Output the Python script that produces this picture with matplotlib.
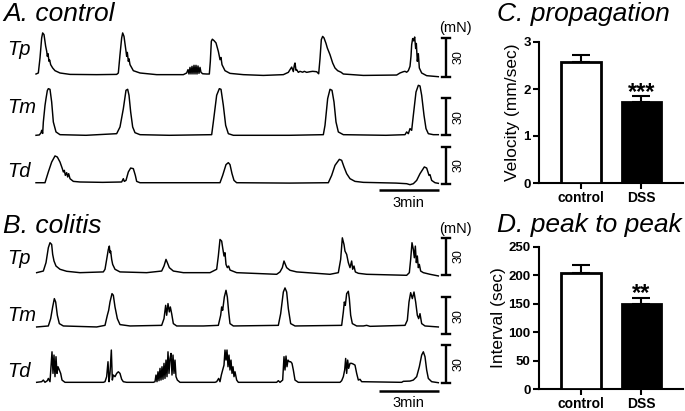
import matplotlib
matplotlib.use('Agg')
import matplotlib.pyplot as plt

plt.rcParams['font.family'] = ['Liberation Sans', 'DejaVu Sans']

# ---- traces: (time in s, force in mN) ----
a_tp = [(0, 2.1), (7, 2.9), (12, 14.6), (17, 30.3), (20, 34.2), (24, 32.9), (29, 23.8), (32, 20), (34, 15.9),
        (36, 18), (39, 12.0), (41, 13), (44, 9.4), (50, 6.8), (57, 4.7), (72, 2.9), (102, 1.8), (182, 1.6),
        (242, 1.8), (247, 2.9), (252, 17.2), (257, 30.3), (260, 34.2), (264, 31.5), (268, 23.8), (270, 20),
        (272, 15.9), (274, 19), (277, 12), (279, 14), (282, 9.4), (292, 4.7), (312, 2.9), (362, 1.6), (442, 1.6),
        (452, 2.9), (456, 5.5), (459, 2.1), (462, 7.3), (465, 2.1), (468, 8.1), (471, 2.1), (474, 8.9), (477, 2.1),
        (480, 8.9), (483, 2.1), (486, 8.4), (489, 2.6), (492, 7.3), (495, 3.4), (500, 2.3), (512, 2.1),
        (520, 2.1), (523, 12), (526, 27.7), (529, 29.3), (534, 28.2), (540, 26.4), (547, 19.8), (550, 16),
        (552, 13.3), (555, 15), (558, 9.4), (567, 4.7), (582, 2.6), (622, 1.6), (682, 1.0), (742, 1.6),
        (757, 3.4), (762, 5.5), (767, 7.5), (772, 4), (775, 9), (777, 10.7), (780, 5), (782, 5.5), (787, 3.4),
        (792, 4.2), (800, 3.5), (805, 4.2), (812, 3.4), (822, 3.9), (830, 4.2), (842, 3.9), (848, 2.3),
        (852, 14), (856, 29), (860, 31.5), (864, 30.3), (870, 26), (874, 22.4), (882, 17.2), (890, 10.7),
        (897, 6.8), (905, 4.7), (915, 3.5), (922, 2.1), (982, 1.0), (1082, 1.3), (1092, 2.9), (1102, 3.9),
        (1107, 4.2), (1112, 3.5), (1117, 4.7), (1122, 8.1), (1125, 16), (1127, 25), (1130, 29.8), (1133, 28),
        (1136, 31), (1139, 22), (1141, 26), (1144, 12), (1147, 18), (1150, 6.8), (1157, 2.9), (1172, 0.8),
        (1207, 0)]

a_tm = [(0, 0), (10, 0.3), (15, 2), (17, 4.0), (20, 1.5), (22, 10.7), (27, 24), (30, 29.5), (34, 36), (37, 37.5),
        (42, 37.0), (47, 26.8), (52, 10.7), (60, 2.7), (72, 0.5), (150, 0), (242, 1.3), (252, 6.7), (262, 21.4),
        (270, 36.2), (275, 37), (279, 32.2), (284, 18.8), (290, 6.7), (297, 2.1), (312, 0.5), (400, 0),
        (527, 0.5), (532, 10.7), (542, 32.2), (550, 37.5), (555, 37), (562, 24.1), (569, 8), (577, 1.3),
        (592, 0), (760, 0), (862, 0.5), (867, 8), (875, 29.5), (882, 37), (888, 36.2), (894, 26.8), (900, 10.7),
        (907, 2.7), (922, 0.5), (1050, 0), (1107, 0.5), (1112, 2.7), (1117, 1.3), (1122, 5.4), (1127, 4),
        (1132, 16.1), (1140, 34.8), (1147, 40.2), (1152, 39.7), (1157, 32.2), (1164, 16.1), (1170, 5.4),
        (1177, 1.3), (1192, 0.5), (1207, 0.5)]

a_td = [(0, 0.8), (20, 0.8), (27, 0.8), (37, 9.6), (47, 17.7), (57, 22.7), (64, 21.8), (72, 17.7), (79, 12.3),
        (82, 9.6), (85, 10.9), (88, 6.8), (92, 9.0), (95, 5.5), (98, 8.2), (102, 4.1), (112, 1.9), (132, 1.4),
        (200, 1.1), (257, 1.4), (262, 4.1), (265, 1.9), (270, 2.7), (277, 9.6), (284, 12.8), (292, 12.3),
        (298, 6.8), (302, 1.9), (312, 0.8), (420, 0.8), (552, 0.8), (560, 6.8), (570, 15.6), (577, 17.2),
        (582, 15.6), (588, 8.2), (594, 2.7), (602, 0.8), (760, 0.5), (877, 0.8), (887, 6.8), (897, 15),
        (910, 19.9), (917, 19.1), (924, 13.7), (932, 8.2), (942, 4.1), (957, 1.9), (982, 1.1), (1080, 0.5),
        (1112, 0), (1122, -0.8), (1132, 0), (1142, 2.7), (1152, 8.2), (1165, 13.7), (1172, 12.8), (1179, 6.8),
        (1182, 7.4), (1187, 2.7), (1197, 0.8), (1207, 0.3)]

b_tp = [(2, 2.1), (22, 3.4), (30, 10.1), (37, 22), (42, 26), (47, 24.6), (50, 16.7), (54, 11.4), (60, 7.4),
        (72, 4.8), (92, 3.2), (132, 2.1), (202, 2.7), (207, 4.8), (212, 12.7), (217, 20.7), (220, 23.3),
        (222, 18), (224, 19.3), (227, 12.7), (230, 8.7), (237, 4.8), (252, 2.7), (332, 2.1), (377, 3.4),
        (384, 7.4), (390, 12.7), (394, 10.1), (400, 6.1), (412, 3.4), (442, 2.1), (522, 2.1), (542, 4.8),
        (547, 15.4), (552, 28.6), (557, 27.3), (560, 22), (564, 15.4), (567, 18), (570, 8.7), (574, 6.1),
        (578, 7.4), (582, 4.2), (602, 2.1), (722, 0.8), (732, 2.7), (739, 6.1), (744, 11.4), (748, 8.7),
        (752, 6.1), (762, 4), (782, 2.7), (882, 0.8), (907, 2.1), (914, 12.7), (919, 29.9), (924, 24.6),
        (927, 19.3), (932, 16.7), (937, 10.1), (942, 6.1), (947, 11.4), (950, 4.8), (954, 7.4), (958, 2.7),
        (967, 1.6), (992, 0.8), (1112, 0), (1120, 2.1), (1124, 12.7), (1128, 26), (1132, 20.7), (1135, 14),
        (1138, 23.3), (1141, 10.1), (1144, 15.4), (1147, 6.1), (1150, 8.7), (1154, 3.4), (1162, 2.1),
        (1182, 0.8), (1207, -0.5)]

b_tm = [(2, 5.9), (37, 6.7), (44, 12.6), (50, 22), (55, 28.7), (59, 26), (64, 15.3), (70, 8.6), (82, 6.7),
        (182, 5.9), (207, 7.2), (214, 15.3), (218, 19.3), (222, 26), (228, 32.7), (232, 31.4), (237, 22),
        (244, 12.6), (252, 7.8), (282, 6.7), (377, 7.2), (384, 12.6), (389, 23.3), (392, 15.3), (396, 24.7),
        (400, 18), (403, 22), (407, 16.6), (412, 8.6), (422, 6.7), (502, 6.7), (547, 7.2), (554, 15.3),
        (557, 22), (560, 19.3), (565, 30), (570, 35.4), (574, 30), (578, 18), (582, 8.6), (592, 6.7),
        (727, 7.2), (734, 16.6), (742, 34), (747, 37.3), (752, 34), (757, 20.6), (764, 8.6), (777, 6.7),
        (917, 7.2), (922, 18), (925, 26), (928, 23.3), (932, 32.7), (937, 34.6), (940, 28.7), (944, 15.3),
        (949, 8.6), (962, 6.7), (982, 6.7), (992, 7.2), (1002, 6.4), (1107, 7.2), (1114, 11.3), (1119, 26),
        (1124, 33.5), (1129, 28.7), (1134, 34), (1139, 26), (1144, 15.3), (1148, 12.6), (1152, 16.6),
        (1157, 8.6), (1167, 6.7), (1207, 5.9)]

b_td = [(2, 0.3), (17, 0.8), (22, 2.1), (27, 0.3), (34, 1.6), (37, 3.4), (42, 0.8), (45, 12.7), (48, 24.6),
        (51, 7.4), (54, 22), (57, 4.8), (60, 20.7), (63, 7.4), (66, 12.7), (70, 10.1), (74, 7.4), (78, 2.1),
        (87, 0.3), (202, 0.3), (207, 0.8), (212, 4.8), (216, 16.7), (219, 0.8), (222, 7.4), (226, 26),
        (229, 2.1), (232, 6.1), (237, 4.8), (242, 7.4), (247, 8.7), (252, 7.4), (257, 2.7), (262, 0.8),
        (272, 0.3), (352, 0.3), (357, 0.8), (360, 6.1), (363, 0.8), (366, 8.7), (369, 1.6), (372, 11.4),
        (375, 2.1), (378, 12.7), (381, 2.7), (384, 15.4), (387, 3.4), (390, 18), (393, 4.8), (396, 24.6),
        (399, 7.4), (402, 19.3), (405, 23.3), (408, 6.1), (411, 22), (414, 7.4), (417, 18), (420, 4.8),
        (424, 2.1), (432, 0.3), (537, 0.3), (542, 0.8), (548, 3.4), (552, 0.8), (556, 6.1), (560, 10.1),
        (564, 14), (567, 26), (570, 18), (573, 26), (576, 12.7), (579, 22), (582, 10.1), (585, 18), (588, 7.4),
        (591, 12.7), (594, 4.8), (597, 8.7), (602, 2.1), (607, 0.3), (722, 0.3), (727, 1.6), (732, 0.3),
        (740, 2.1), (744, 20.7), (747, 10.1), (750, 21.2), (753, 12.7), (756, 18), (760, 16.7), (764, 16.7),
        (768, 15.4), (772, 10.1), (777, 2.1), (787, 0.3), (912, 0.3), (917, 1.6), (922, 4.8), (926, 10.1),
        (929, 19.3), (932, 7.4), (935, 18), (938, 11.4), (942, 15.4), (947, 15.4), (952, 14.8), (957, 14),
        (962, 7.4), (967, 2.1), (972, 2.7), (977, 0.8), (1097, 0.3), (1102, 1.1), (1122, 1.3), (1132, 2.1),
        (1142, 4.8), (1150, 12.7), (1157, 22), (1162, 24.6), (1167, 20.7), (1172, 10.1), (1177, 3.4),
        (1187, 0.8), (1207, 0)]

trace_names = ['Tp', 'Tm', 'Td']

# ---- bar charts ----
groups = ['control', 'DSS']
velocity = [2.57, 1.73]
velocity_sem = [0.15, 0.12]
interval = [204, 150]
interval_sem = [15, 10]

W, H = 685, 411
fig = plt.figure(figsize=(W / 100, H / 100), dpi=100)


def px_axes(left, top, right, bottom):
    return fig.add_axes([left / W, 1 - bottom / H, (right - left) / W, (bottom - top) / H])


def fig_text(x, y, s, **kw):
    fig.text(x / W, 1 - y / H, s, **kw)


# rows: (trace, y px of 0 mN, y px of 30 mN)
rows = [
    (a_tp, 76.7, 38.3), (a_tm, 135.3, 98.0), (a_td, 183.7, 147.0),
    (b_tp, 275.3, 237.7), (b_tm, 334.3, 297.0), (b_td, 382.7, 345.0),
]
label_base = [55, 113, 177, 264, 321, 377]

for i, (trace, y0, y30) in enumerate(rows):
    k = 30.0 / (y0 - y30)          # mN per pixel
    top, bot = y0 - 62, y0 + 14
    ax = px_axes(30, top, 480, bot)
    ax.set_xlim(-18, 1332)
    ax.set_ylim(-14 * k, 62 * k)
    ax.axis('off')
    t = [p[0] for p in trace]
    f = [p[1] for p in trace]
    ax.plot(t, f, color='black', lw=1.05, clip_on=False)
    # 30 mN scale bar
    ax.plot([1230, 1230], [0, 30], color='black', lw=1.7, solid_capstyle='butt')
    ax.plot([1218, 1242], [0, 0], color='black', lw=1.7)
    ax.plot([1218, 1242], [30, 30], color='black', lw=1.7)
    ax.text(1268, 15, '30', rotation=90, ha='center', va='center', fontsize=9)
    fig_text(7, label_base[i], trace_names[i % 3], fontsize=14.5, style='italic', va='baseline')
    if i % 3 == 2:
        # 3 min time bar
        yb = -(6.3 if i == 2 else 8.3) * k
        ax.plot([1029, 1209], [yb, yb], color='black', lw=1.8, solid_capstyle='butt')

fig_text(408.5, 206.5, '3min', fontsize=10.5, ha='center', va='baseline')
fig_text(408.5, 406.5, '3min', fontsize=10.5, ha='center', va='baseline')
fig_text(455, 28, '(mN)', fontsize=10.5, ha='center', va='center')
fig_text(455, 229, '(mN)', fontsize=10.5, ha='center', va='center')

fig_text(3, 21, 'A. control', fontsize=19, style='italic', va='baseline')
fig_text(3, 233, 'B. colitis', fontsize=19, style='italic', va='baseline')
fig_text(497, 21, 'C. propagation', fontsize=19, style='italic', va='baseline')
fig_text(497, 232, 'D. peak to peak', fontsize=19, style='italic', va='baseline')


def bar_panel(ax, vals, sems, ylim, yticks, ylabel, stars, star_y):
    x = [0, 1]
    ax.bar(x, vals, width=0.66, color=['white', 'black'], edgecolor='black', linewidth=2, zorder=3)
    ax.errorbar(x, vals, yerr=[[0, 0], sems], fmt='none', ecolor='black', elinewidth=1.5,
                capsize=6.5, capthick=1.5, zorder=2)
    ax.set_xlim(-0.694, 1.686)
    ax.set_ylim(*ylim)
    ax.set_yticks(yticks)
    ax.set_xticks(x)
    ax.set_xticklabels(groups)
    for s in ['top', 'right']:
        ax.spines[s].set_visible(False)
    for s in ['left', 'bottom']:
        ax.spines[s].set_linewidth(1.5)
    ax.tick_params(length=4, width=1.5, labelsize=9.5, pad=2)
    for lab in ax.get_xticklabels() + ax.get_yticklabels():
        lab.set_fontweight('bold')
    ax.tick_params(axis='x', labelsize=10)
    ax.set_ylabel(ylabel, fontsize=12.5, labelpad=2)
    ax.text(1, star_y, stars, ha='center', va='baseline', fontsize=17, fontweight='bold')


axc = px_axes(539, 42, 683, 183)
bar_panel(axc, velocity, velocity_sem, (0, 3), [0, 1, 2, 3], 'Velocity (mm/sec)', '***', 1.79)

axd = px_axes(539, 247, 683, 389)
bar_panel(axd, interval, interval_sem, (0, 250), [0, 50, 100, 150, 200, 250], 'Interval (sec)', '**', 157)

plt.savefig('out.png', dpi=100)
